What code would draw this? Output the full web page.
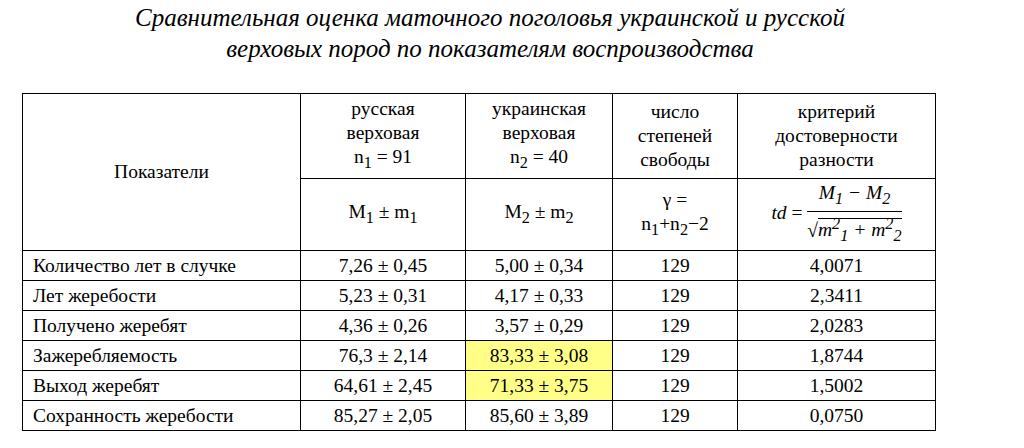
<!DOCTYPE html>
<html><head><meta charset="utf-8">
<script src="https://cdn.jsdelivr.net/npm/chart.js@4"></script>
<style>
body{margin:0;width:1024px;height:448px;background:#fff;font-family:"Times New Roman","Liberation Serif","DejaVu Serif",serif;color:#000;position:relative}
#title{position:absolute;left:0;top:2px;width:980px;text-align:center;font-style:italic;font-size:25px;line-height:31px}
table{position:absolute;left:22px;top:93px;border-collapse:collapse;font-size:19.5px}
td{border:1.5px solid #000;text-align:center;padding:0;line-height:24px}
td.l{text-align:left;padding-left:10px}
.hl{background:#ffff88}
.fr{display:inline-block;vertical-align:middle;text-align:center;font-style:italic}
.fr span{display:block}
</style></head><body>
<div id="title">Сравнительная оценка маточного поголовья украинской и русской<br>верховых пород по показателям воспроизводства</div>
<table id="t"></table>
<script>
var rowLabels = ['Количество лет в случке','Лет жеребости','Получено жеребят','Зажеребляемость','Выход жеребят','Сохранность жеребости'];
var russian = ['7,26 ± 0,45','5,23 ± 0,31','4,36 ± 0,26','76,3 ± 2,14','64,61 ± 2,45','85,27 ± 2,05'];
var ukrainian = ['5,00 ± 0,34','4,17 ± 0,33','3,57 ± 0,29','83,33 ± 3,08','71,33 ± 3,75','85,60 ± 3,89'];
var freedom = ['129','129','129','129','129','129'];
var tdValues = ['4,0071','2,3411','2,0283','1,8744','1,5002','0,0750'];
var highlighted = [3, 4];

var colW = [278, 165, 147, 125, 198];
var h = '<colgroup>' + colW.map(function (w) { return '<col style="width:' + w + 'px">'; }).join('') + '</colgroup>';
h += '<tr style="height:85px"><td rowspan="2">Показатели</td>' +
    '<td>русская<br>верховая<br>n<sub>1</sub> = 91</td>' +
    '<td>украинская<br>верховая<br>n<sub>2</sub> = 40</td>' +
    '<td>число<br>степеней<br>свободы</td>' +
    '<td>критерий<br>достоверности<br>разности</td></tr>';
h += '<tr style="height:72px"><td>M<sub>1</sub> ± m<sub>1</sub></td><td>M<sub>2</sub> ± m<sub>2</sub></td>' +
    '<td>γ =<br>n<sub>1</sub>+n<sub>2</sub>−2</td>' +
    '<td><i>td</i> = <span class="fr"><span style="border-bottom:1px solid #000">M<sub>1</sub> − M<sub>2</sub></span>' +
    '<span>√<span style="display:inline;border-top:1px solid #000">m<sup>2</sup><sub>1</sub> + m<sup>2</sup><sub>2</sub></span></span></span></td></tr>';
for (var i = 0; i < rowLabels.length; i++) {
    h += '<tr style="height:30px"><td class="l">' + rowLabels[i] + '</td><td>' + russian[i] + '</td>' +
        '<td' + (highlighted.indexOf(i) >= 0 ? ' class="hl"' : '') + '>' + ukrainian[i] + '</td>' +
        '<td>' + freedom[i] + '</td><td>' + tdValues[i] + '</td></tr>';
}
document.getElementById('t').innerHTML = h;
</script>
</body></html>
